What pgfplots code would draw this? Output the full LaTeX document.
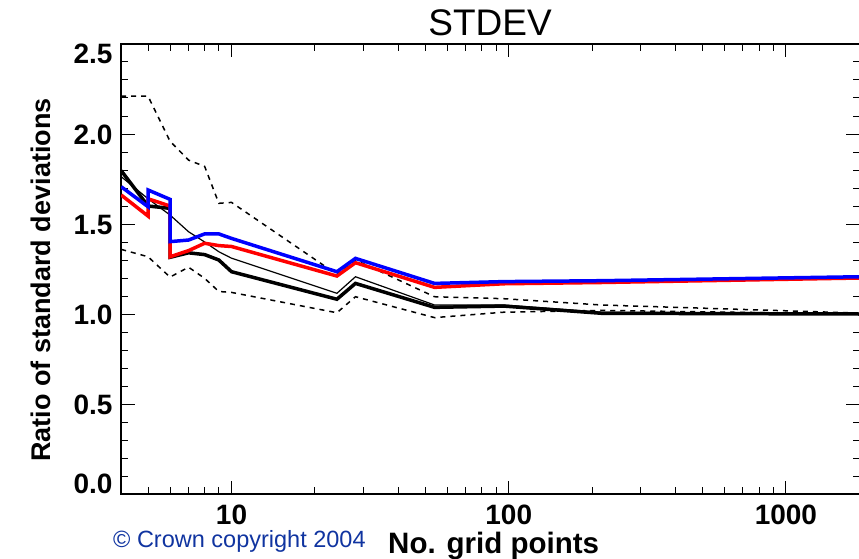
\documentclass[border=0pt]{standalone}
\usepackage{pgfplots}
\pgfplotsset{compat=1.18}
\usepackage{fontspec}
\setmainfont{Liberation Sans}
\definecolor{crown}{RGB}{16,52,160}
\begin{document}
\begin{tikzpicture}[x=1bp,y=1bp]
\begin{axis}[
  at={(121.2bp,-494bp)}, anchor=south west,
  scale only axis, width=738.7bp, height=450bp,
  xmode=log, xmin=4, xmax=1849, ymin=0, ymax=2.5,
  xtick={10,100,1000}, xticklabels={10,100,1000},
  minor xtick={5,6,7,8,9,20,30,40,50,60,70,80,90,200,300,400,500,600,700,800,900},
  ytick={0,0.5,1,1.5,2,2.5},
  yticklabels={{\smash{\raisebox{1bp}{0.0}}},{\smash{\raisebox{-10bp}{0.5}}},{\smash{\raisebox{-10bp}{1.0}}},{\smash{\raisebox{-10bp}{1.5}}},{\smash{\raisebox{-10bp}{2.0}}},{\smash{\raisebox{-19.3bp}{2.5}}}},
  minor y tick num=4,
  tick align=inside,
  major tick length=13.5bp, minor tick length=7bp,
  tick style={black, line width=1bp},
  axis line style={line width=1.6bp},
  ticklabel style={font=\fontsize{28bp}{30bp}\selectfont\bfseries},
  xticklabel style={anchor=north, inner sep=0pt, yshift=-11bp},
  yticklabel style={anchor=east, inner sep=0pt, xshift=-8.5bp},
]
% upper dotted
\addplot[black, line width=1.5bp, dash pattern=on 5bp off 5bp] coordinates {
(4,2.21) (5,2.21) (6,1.96) (7,1.855) (8,1.82) (9,1.615) (10,1.62) (24,1.22) (28,1.30) (54,1.096) (96,1.085) (216,1.05) (1849,1.005)};
% lower dotted
\addplot[black, line width=1.5bp, dash pattern=on 5bp off 5bp] coordinates {
(4,1.359) (5,1.318) (6,1.205) (7,1.26) (8,1.198) (9,1.125) (10,1.12) (24,1.007) (28,1.096) (54,0.98) (96,1.01) (216,1.02) (1849,1.0)};
% thin black
\addplot[black, line width=1.2bp] coordinates {
(4,1.763) (5,1.64) (6,1.55) (7,1.457) (8,1.40) (9,1.346) (10,1.31) (24,1.115) (28,1.207) (54,1.05) (96,1.05) (216,1.01) (1849,1.0)};
% thick black
\addplot[black, line width=3.5bp] coordinates {
(4,1.796) (5,1.60) (6,1.587) (6,1.315) (7,1.34) (8,1.33) (9,1.30) (10,1.235) (24,1.082) (28,1.17) (54,1.037) (96,1.044) (216,1.004) (1849,1.0)};
% red
\addplot[red, line width=3.5bp] coordinates {
(4,1.661) (5,1.544) (5,1.64) (6,1.60) (6,1.318) (7,1.352) (8,1.393) (9,1.38) (10,1.375) (24,1.211) (28,1.285) (54,1.148) (96,1.168) (216,1.175) (1849,1.2)};
% blue
\addplot[blue, line width=3.5bp] coordinates {
(4,1.707) (5,1.596) (5,1.689) (6,1.637) (6,1.402) (7,1.411) (8,1.445) (9,1.445) (10,1.42) (24,1.235) (28,1.309) (54,1.17) (96,1.18) (216,1.185) (1849,1.207)};
\end{axis}
\node[anchor=base, font=\fontsize{37bp}{40bp}\selectfont] at (490,-36) {STDEV};
\node[rotate=90, anchor=base, font=\bfseries\fontsize{27bp}{29bp}\selectfont] at (50,-280) {Ratio of standard deviations};
\node[anchor=base west, inner sep=0pt, font=\bfseries\fontsize{29.5bp}{31bp}\selectfont] at (388,-553) {No. grid points};
\node[anchor=base west, inner sep=0pt, text=crown, font=\fontsize{23.5bp}{25bp}\selectfont] at (113,-547) {© Crown copyright 2004};
\pgfresetboundingbox
\path[use as bounding box] (0,0) rectangle (859,-559);
\end{tikzpicture}
\end{document}
